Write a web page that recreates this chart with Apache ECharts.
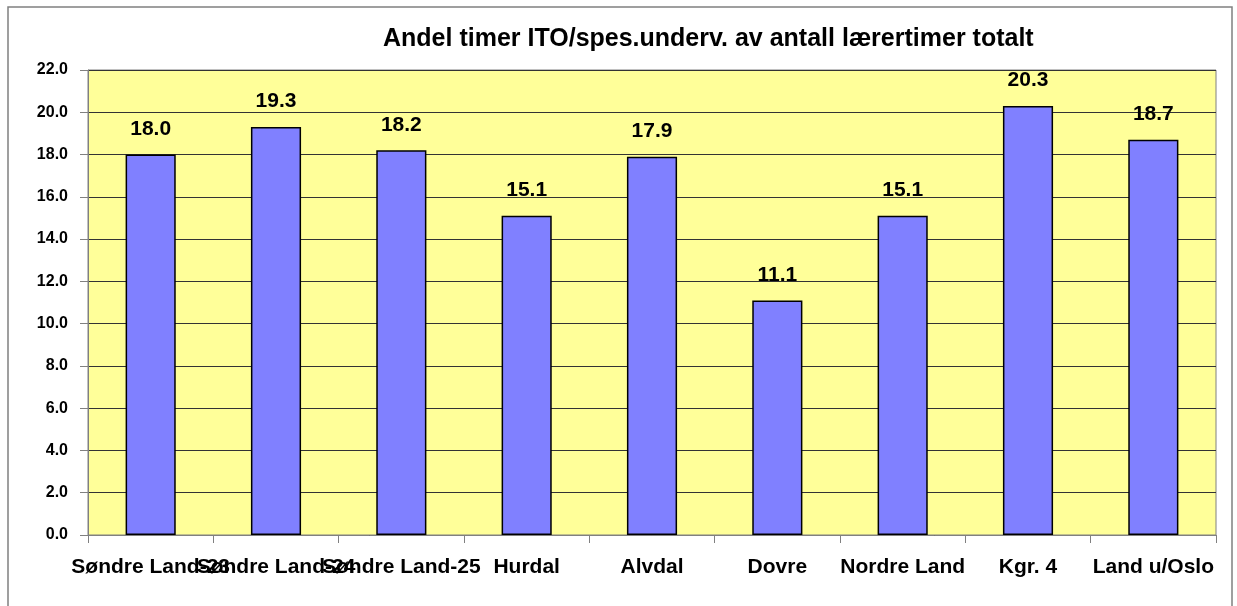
<!DOCTYPE html>
<html>
<head>
<meta charset="utf-8">
<script src="https://cdn.jsdelivr.net/npm/echarts@6/dist/echarts.min.js"></script>
<style>
  html, body { margin: 0; padding: 0; background: #fff; }
  #chart { width: 1237px; height: 606px; }
</style>
</head>
<body>
<div id="chart"></div>
<script>
  // data
  const categories = ['Søndre Land-23', 'Søndre Land-24', 'Søndre Land-25', 'Hurdal', 'Alvdal', 'Dovre', 'Nordre Land', 'Kgr. 4', 'Land u/Oslo']
  const andel = [18.0, 19.3, 18.2, 15.1, 17.9, 11.1, 15.1, 20.3, 18.7]
  const yTicks = { min: 0, max: 22, interval: 2 }

  const font = '"Liberation Sans", Arial, sans-serif'
  const chart = echarts.init(document.getElementById('chart'))

  chart.setOption({
    animation: false,
    backgroundColor: '#fff',
    graphic: [
      {
        type: 'polyline',
        shape: { points: [[8, 610], [8, 7], [1232, 7], [1232, 610]] },
        style: { stroke: '#808080', lineWidth: 1.5, fill: null }
      }
    ],
    title: {
      text: 'Andel timer ITO/spes.underv. av antall lærertimer totalt',
      left: 378,
      top: 22,
      textStyle: { fontFamily: font, fontWeight: 'bold', fontSize: 25, color: '#000' }
    },
    grid: {
      left: 88,
      right: 21,
      top: 70,
      bottom: 71,
      show: true,
      backgroundColor: '#ffff99',
      borderColor: '#808080',
      borderWidth: 1
    },
    xAxis: {
      type: 'category',
      data: categories,
      axisLine: { lineStyle: { color: '#808080', width: 1 } },
      axisTick: { show: true, interval: 0, length: 8, lineStyle: { color: '#808080' } },
      axisLabel: {
        interval: 0,
        margin: 22,
        fontFamily: font,
        fontWeight: 'bold',
        fontSize: 21,
        color: '#000'
      }
    },
    yAxis: {
      type: 'value',
      min: yTicks.min,
      max: yTicks.max,
      interval: yTicks.interval,
      axisLine: { show: true, lineStyle: { color: '#808080' } },
      axisTick: { show: true, length: 8, lineStyle: { color: '#808080' } },
      splitLine: { lineStyle: { color: '#333', width: 1 } },
      axisLabel: {
        margin: 20,
        fontFamily: font,
        fontWeight: 'bold',
        fontSize: 16,
        color: '#000',
        formatter: v => v.toFixed(1)
      }
    },
    series: [
      {
        type: 'bar',
        data: andel,
        barWidth: '40%',
        itemStyle: { color: '#8080ff', borderColor: '#000', borderWidth: 1.5 },
        label: {
          show: true,
          position: 'top',
          distance: 15,
          fontFamily: font,
          fontWeight: 'bold',
          fontSize: 21,
          color: '#000',
          formatter: p => p.value.toFixed(1)
        }
      }
    ]
  })
</script>
</body>
</html>
